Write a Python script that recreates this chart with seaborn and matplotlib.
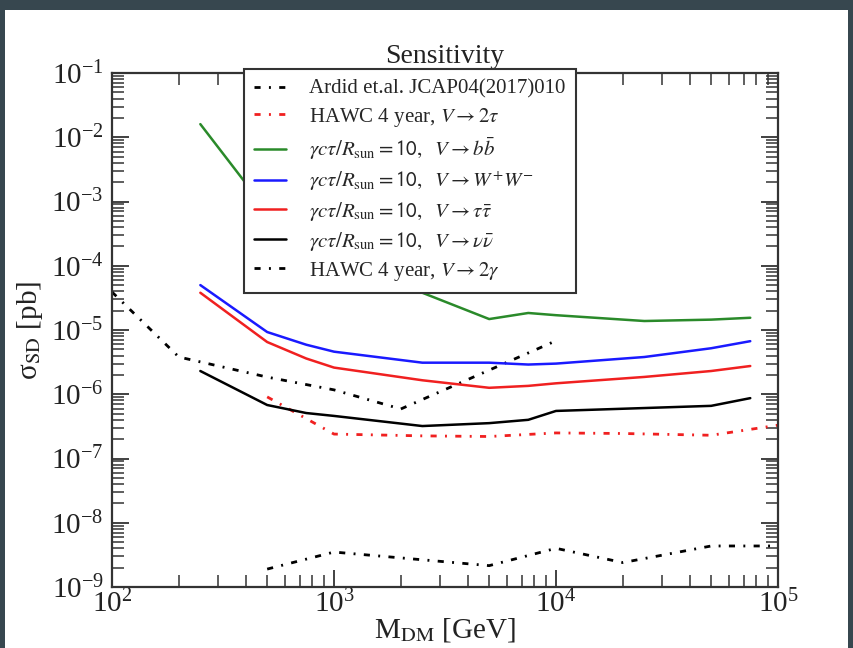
import numpy as np
import pandas as pd
import matplotlib
matplotlib.use("Agg")
import matplotlib.pyplot as plt
import seaborn as sns
from matplotlib.ticker import LogLocator, NullFormatter
from matplotlib.patches import Rectangle
from matplotlib.lines import Line2D

# ---------------- data ----------------
ardid_x = [100, 200, 500, 1000, 2000, 10000]
ardid_y = [3.9e-5, 3.8e-6, 1.85e-6, 1.17e-6, 5.9e-7, 6.8e-6]

hawc_tau_x = [500, 1000, 2500, 5000, 10000, 20000, 50000, 100000]
hawc_tau_y = [9.1e-7, 2.4e-7, 2.25e-7, 2.2e-7, 2.5e-7, 2.45e-7, 2.3e-7, 3.3e-7]

mass = [250, 500, 750, 1000, 2500, 5000, 7500, 10000, 25000, 50000, 75000]
bb_y = [1.6e-2, 7.1e-4, 3.0e-4, 1.6e-4, 3.8e-5, 1.48e-5, 1.84e-5, 1.7e-5, 1.38e-5, 1.45e-5, 1.55e-5]
ww_y = [5.0e-5, 9.3e-6, 5.9e-6, 4.6e-6, 3.1e-6, 3.1e-6, 2.9e-6, 3.0e-6, 3.8e-6, 5.2e-6, 6.7e-6]
tautau_y = [3.8e-5, 6.5e-6, 3.6e-6, 2.6e-6, 1.65e-6, 1.26e-6, 1.35e-6, 1.48e-6, 1.86e-6, 2.3e-6, 2.75e-6]
nunu_y = [2.3e-6, 6.8e-7, 5.1e-7, 4.6e-7, 3.2e-7, 3.55e-7, 4.0e-7, 5.5e-7, 6.1e-7, 6.6e-7, 8.7e-7]

hawc_gam_x = [500, 1000, 5000, 10000, 20000, 50000, 100000]
hawc_gam_y = [1.9e-9, 3.5e-9, 2.15e-9, 4.0e-9, 2.4e-9, 4.35e-9, 4.35e-9]

labels = [
    "Ardid et.al. JCAP04(2017)010",
    r"HAWC 4 year, $V \rightarrow 2\tau$",
    r"$\gamma c\tau/R_{\rm sun} = \mathsf{10},\ \ V \rightarrow b\bar{b}$",
    r"$\gamma c\tau/R_{\rm sun} = \mathsf{10},\ \ V \rightarrow W^{+}W^{-}$",
    r"$\gamma c\tau/R_{\rm sun} = \mathsf{10},\ \ V \rightarrow \tau\bar{\tau}$",
    r"$\gamma c\tau/R_{\rm sun} = \mathsf{10},\ \ V \rightarrow \nu\bar{\nu}$",
    r"HAWC 4 year, $V \rightarrow 2\gamma$",
]

# ---------------- style ----------------
sns.set_theme(style="ticks")
plt.rcParams["font.family"] = ["Liberation Serif", "DejaVu Serif"]
plt.rcParams["mathtext.fontset"] = "stix"
plt.rcParams["axes.edgecolor"] = "#333333"

GREEN = "#2a8a2a"
BLUE = "#1a1aff"
RED = "#f02020"
DD = (0, (2.2, 3.0, 0.7, 3.0))

fig = plt.figure(figsize=(8.54, 6.48), dpi=100)
fig.patch.set_facecolor("#37474f")
bg = Rectangle((5 / 854, 0), (848 - 5) / 854, 1 - 10 / 648,
               transform=fig.transFigure, facecolor="white",
               edgecolor="none", zorder=-10)
fig.add_artist(bg)
ax = fig.add_axes([112 / 854, 1 - 587 / 648, 666 / 854, 514 / 648])
ax.set_zorder(1)
ax.set_facecolor("white")

series = [
    (ardid_x, ardid_y, "black", DD, 2.0),
    (hawc_tau_x, hawc_tau_y, RED, DD, 2.0),
    (mass, bb_y, GREEN, "-", 1.8),
    (mass, ww_y, BLUE, "-", 1.8),
    (mass, tautau_y, RED, "-", 1.8),
    (mass, nunu_y, "black", "-", 1.8),
    (hawc_gam_x, hawc_gam_y, "black", DD, 2.0),
]

handles = []
for (xs, ys, col, ls, lw), lab in zip(series, labels):
    df = pd.DataFrame({"x": xs, "y": ys})
    sns.lineplot(data=df, x="x", y="y", ax=ax, color=col, lw=lw, legend=False)
    ln = ax.lines[-1]
    ln.set_linestyle(ls)
    handles.append(Line2D([0], [0], color=col, lw=lw, linestyle=ls, label=lab))

ax.set_xscale("log")
ax.set_yscale("log")
ax.set_xlim(1e2, 1e5)
ax.set_ylim(1e-9, 1e-1)

ax.xaxis.set_major_locator(LogLocator(base=10, numticks=20))
ax.xaxis.set_minor_locator(LogLocator(base=10, subs=np.arange(2, 10), numticks=100))
ax.yaxis.set_major_locator(LogLocator(base=10, numticks=20))
ax.yaxis.set_minor_locator(LogLocator(base=10, subs=np.arange(2, 10), numticks=100))
ax.xaxis.set_minor_formatter(NullFormatter())
ax.yaxis.set_minor_formatter(NullFormatter())

ax.tick_params(which="both", direction="in", top=True, right=True,
               colors="#333333", labelcolor="#222222")
ax.tick_params(which="major", length=12, width=1.3, labelsize=21)
ax.tick_params(which="minor", length=8.5, width=1.1)
ax.tick_params(axis="y", which="major", pad=6)
ax.tick_params(axis="x", which="major", pad=2)
for s in ax.spines.values():
    s.set_linewidth(1.6)
    s.set_color("#333333")

ax.set_xlabel(r"M$_{\rm DM}$ [GeV]", fontsize=21, labelpad=-2, color="#222222")
ax.set_ylabel(r"σ$_{\rm SD}$ [pb]", fontsize=21, labelpad=4, color="#222222")
ax.set_title("Sensitivity", fontsize=20, pad=7, color="#222222")

leg = ax.legend(handles=handles, loc="upper left", bbox_to_anchor=(0.198, 1.008),
                borderaxespad=0, fontsize=15, frameon=True, fancybox=False,
                handlelength=1.5, handletextpad=1.15, labelspacing=0.33,
                borderpad=0.5)
leg.get_frame().set_edgecolor("#333333")
leg.get_frame().set_linewidth(1.5)
leg.get_frame().set_facecolor("white")
leg.get_frame().set_alpha(1)
leg.set_zorder(10)

fig.savefig("out.png", dpi=100, facecolor=fig.get_facecolor())
